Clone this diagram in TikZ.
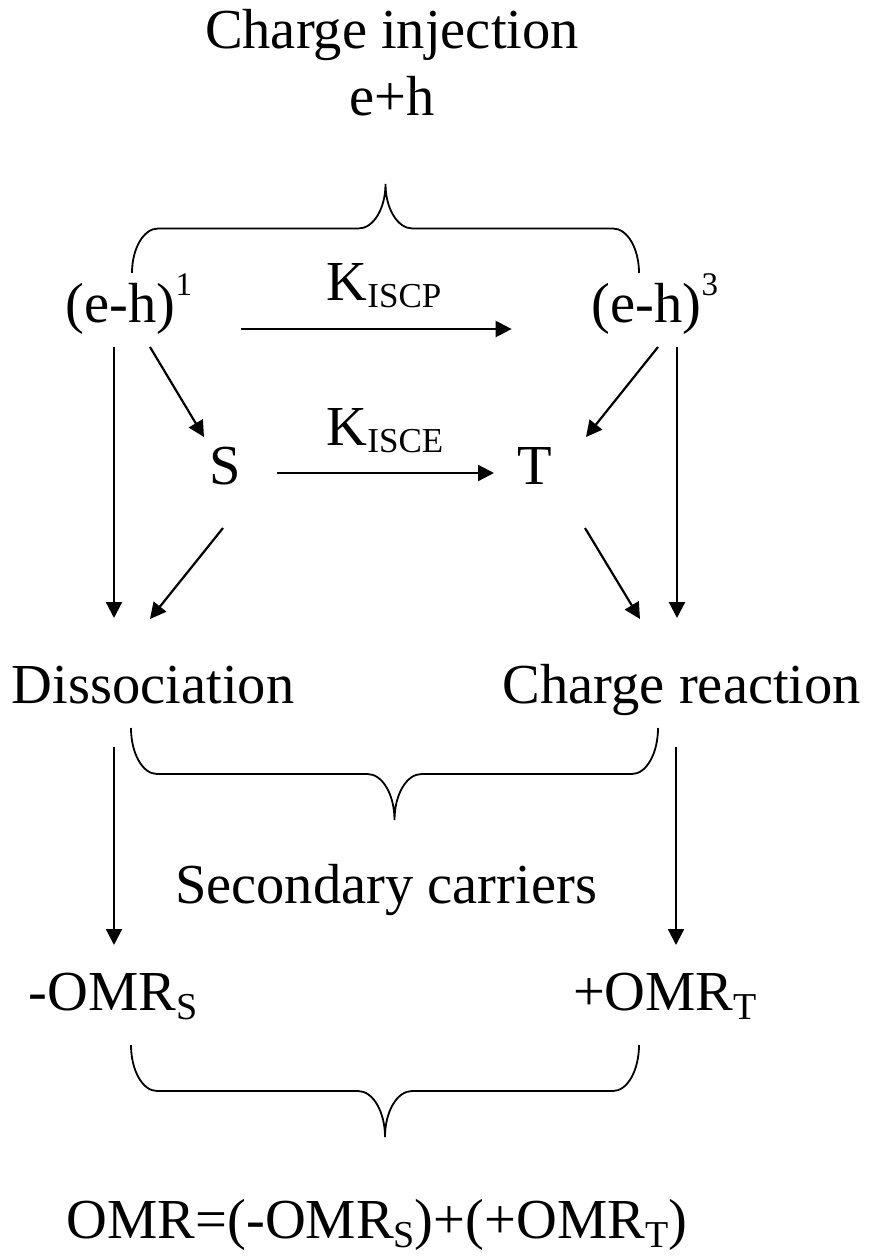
\documentclass[tikz,border=0pt]{standalone}
\usepackage{fontspec}
\setmainfont{Liberation Serif}
\usetikzlibrary{arrows.meta}

\newcommand{\ksub}[1]{\raisebox{-7pt}{\fontsize{35}{35}\selectfont #1}}
\newcommand{\osub}[2][9pt]{\raisebox{-#1}{\fontsize{38}{38}\selectfont #2}}
\newcommand{\usup}[1]{\raisebox{27pt}{\fontsize{33}{33}\selectfont #1}}
% curly brace: left x, right x, end y, tip y
\newcommand{\curlybr}[4]{%
  \pgfmathsetmacro{\bym}{(#3+#4)/2}
  \pgfmathsetmacro{\bxm}{(#1+#2)/2}
  \draw[brc] (#1,#3) .. controls (#1,{#3+0.55*(\bym-#3)}) and ({#1+11.6},\bym) .. ({#1+26},\bym)
    -- ({\bxm-27},\bym) .. controls ({\bxm-12},\bym) and (\bxm,{\bym+0.45*(#4-\bym)}) .. (\bxm,#4)
    .. controls (\bxm,{\bym+0.45*(#4-\bym)}) and ({\bxm+12},\bym) .. ({\bxm+27},\bym)
    -- ({#2-26},\bym) .. controls ({#2-11.6},\bym) and (#2,{#3+0.55*(\bym-#3)}) .. (#2,#3);}

\begin{document}
\begin{tikzpicture}[x=1pt, y=-1pt, >={Triangle[length=16pt,width=16pt]},
  txt/.style={anchor=base, inner sep=0pt, font=\fontsize{56.5}{68}\selectfont},
  arr/.style={->, line width=2.2pt},
  brc/.style={line width=1.8pt}]
  \useasboundingbox (0,0) rectangle (868,1258);
  % injection
  \node[txt] (inj) at (392,48) {Charge injection};
  \node[txt] (eph) at (392,115) {e+h};
  \curlybr{132}{639}{273}{184}
  % pair states
  \node[txt] (eh1) at (129,322) {(e-h)\usup{1}};
  \node[txt] (eh3) at (655,322) {(e-h)\usup{3}};
  \node[txt] (kp) at (384,300) {K\ksub{ISCP}};
  \node[txt] (S) at (225,484) {S};
  \node[txt] (T) at (535,484) {T};
  \node[txt] (ke) at (385,445) {K\ksub{ISCE}};
  \draw[arr] ([xshift=49pt,yshift=-7pt]eh1.base east) -- ([xshift=-80pt,yshift=-7pt]eh3.base west);
  \draw[arr] ([xshift=52pt,yshift=11pt]S.base) -- ([xshift=-41pt,yshift=11pt]T.base);
  \draw[arr] ([xshift=21pt,yshift=-25pt]eh1.base) -- ([xshift=-21pt,yshift=47pt]S.base);
  \draw[arr] ([xshift=3pt,yshift=-25pt]eh3.base) -- ([xshift=51pt,yshift=47pt]T.base);
  % outcomes
  \node[txt] (diss) at (153,703) {Dissociation};
  \node[txt] (crx) at (682,703) {Charge reaction};
  \draw[arr] ([xshift=-15pt,yshift=-25pt]eh1.base) -- ([xshift=-39pt,yshift=85pt]diss.base);
  \draw[arr] ([xshift=22pt,yshift=-25pt]eh3.base) -- ([xshift=-5pt,yshift=85pt]crx.base);
  \draw[arr] ([xshift=-2pt,yshift=-44pt]S.base) -- ([xshift=-3pt,yshift=84pt]diss.base);
  \draw[arr] ([xshift=50pt,yshift=-44pt]T.base) -- ([xshift=-42pt,yshift=84pt]crx.base);
  \curlybr{131}{658}{728}{820}
  \node[txt] (sec) at (386,903) {Secondary carriers};
  % OMR
  \node[txt] (omrs) at (113,1010) {-OMR\osub{S}};
  \node[txt] (omrt) at (665,1010) {+OMR\osub{T}};
  \draw[arr] ([xshift=-39pt,yshift=-44pt]diss.base) -- ([xshift=1pt,yshift=65pt]omrs.base);
  \draw[arr] ([xshift=-6pt,yshift=-44pt]crx.base) -- ([xshift=11pt,yshift=65pt]omrt.base);
  \curlybr{131}{639}{1045}{1137}
  \node[txt] (omr) at (377,1238) {OMR=(-OMR\osub{S})+(+OMR\osub{T})};
\end{tikzpicture}
\end{document}
